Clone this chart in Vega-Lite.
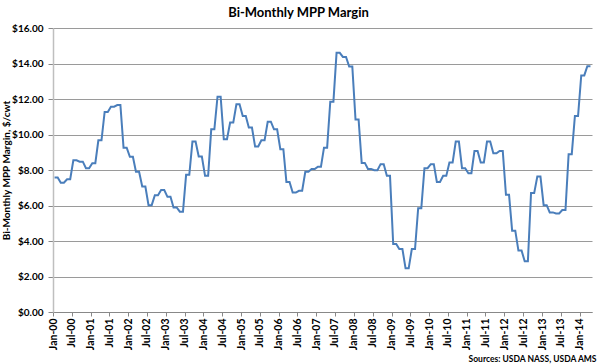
{
  "$schema": "https://vega.github.io/schema/vega-lite/v6.json",
  "autosize": {"type": "none"},
  "width": 539,
  "height": 284,
  "padding": {"left": 53, "top": 28, "right": 8, "bottom": 52},
  "background": "white",
  "title": {"text": "Bi-Monthly MPP Margin", "font": "Lato", "fontSize": 13, "fontWeight": "bold", "color": "#000000", "anchor": "middle", "frame": "bounds", "offset": 3},
  "config": {"view": {"stroke": null}, "font": "Lato"},
  "data": {"values": [
    {"d":"2000-01-01","v":7.58},{"d":"2000-02-01","v":7.58},{"d":"2000-03-01","v":7.28},{"d":"2000-04-01","v":7.28},{"d":"2000-05-01","v":7.48},{"d":"2000-06-01","v":7.48},
    {"d":"2000-07-01","v":8.55},{"d":"2000-08-01","v":8.55},{"d":"2000-09-01","v":8.47},{"d":"2000-10-01","v":8.47},{"d":"2000-11-01","v":8.10},{"d":"2000-12-01","v":8.10},
    {"d":"2001-01-01","v":8.38},{"d":"2001-02-01","v":8.38},{"d":"2001-03-01","v":9.67},{"d":"2001-04-01","v":9.67},{"d":"2001-05-01","v":11.27},{"d":"2001-06-01","v":11.27},
    {"d":"2001-07-01","v":11.57},{"d":"2001-08-01","v":11.57},{"d":"2001-09-01","v":11.66},{"d":"2001-10-01","v":11.66},{"d":"2001-11-01","v":9.26},{"d":"2001-12-01","v":9.26},
    {"d":"2002-01-01","v":8.74},{"d":"2002-02-01","v":8.74},{"d":"2002-03-01","v":7.90},{"d":"2002-04-01","v":7.90},{"d":"2002-05-01","v":7.07},{"d":"2002-06-01","v":7.07},
    {"d":"2002-07-01","v":6.02},{"d":"2002-08-01","v":6.02},{"d":"2002-09-01","v":6.58},{"d":"2002-10-01","v":6.58},{"d":"2002-11-01","v":6.87},{"d":"2002-12-01","v":6.87},
    {"d":"2003-01-01","v":6.49},{"d":"2003-02-01","v":6.49},{"d":"2003-03-01","v":5.89},{"d":"2003-04-01","v":5.89},{"d":"2003-05-01","v":5.65},{"d":"2003-06-01","v":5.65},
    {"d":"2003-07-01","v":7.73},{"d":"2003-08-01","v":7.73},{"d":"2003-09-01","v":9.60},{"d":"2003-10-01","v":9.60},{"d":"2003-11-01","v":8.76},{"d":"2003-12-01","v":8.76},
    {"d":"2004-01-01","v":7.67},{"d":"2004-02-01","v":7.67},{"d":"2004-03-01","v":10.29},{"d":"2004-04-01","v":10.29},{"d":"2004-05-01","v":12.13},{"d":"2004-06-01","v":12.13},
    {"d":"2004-07-01","v":9.73},{"d":"2004-08-01","v":9.73},{"d":"2004-09-01","v":10.67},{"d":"2004-10-01","v":10.67},{"d":"2004-11-01","v":11.70},{"d":"2004-12-01","v":11.70},
    {"d":"2005-01-01","v":11.04},{"d":"2005-02-01","v":11.04},{"d":"2005-03-01","v":10.39},{"d":"2005-04-01","v":10.39},{"d":"2005-05-01","v":9.32},{"d":"2005-06-01","v":9.32},
    {"d":"2005-07-01","v":9.67},{"d":"2005-08-01","v":9.67},{"d":"2005-09-01","v":10.72},{"d":"2005-10-01","v":10.72},{"d":"2005-11-01","v":10.29},{"d":"2005-12-01","v":10.29},
    {"d":"2006-01-01","v":9.17},{"d":"2006-02-01","v":9.17},{"d":"2006-03-01","v":7.33},{"d":"2006-04-01","v":7.33},{"d":"2006-05-01","v":6.73},{"d":"2006-06-01","v":6.73},
    {"d":"2006-07-01","v":6.83},{"d":"2006-08-01","v":6.83},{"d":"2006-09-01","v":7.90},{"d":"2006-10-01","v":7.90},{"d":"2006-11-01","v":8.05},{"d":"2006-12-01","v":8.05},
    {"d":"2007-01-01","v":8.19},{"d":"2007-02-01","v":8.19},{"d":"2007-03-01","v":9.26},{"d":"2007-04-01","v":9.26},{"d":"2007-05-01","v":11.85},{"d":"2007-06-01","v":11.85},
    {"d":"2007-07-01","v":14.60},{"d":"2007-08-01","v":14.60},{"d":"2007-09-01","v":14.37},{"d":"2007-10-01","v":14.37},{"d":"2007-11-01","v":13.83},{"d":"2007-12-01","v":13.83},
    {"d":"2008-01-01","v":10.85},{"d":"2008-02-01","v":10.85},{"d":"2008-03-01","v":8.40},{"d":"2008-04-01","v":8.40},{"d":"2008-05-01","v":8.06},{"d":"2008-06-01","v":8.06},
    {"d":"2008-07-01","v":7.99},{"d":"2008-08-01","v":7.99},{"d":"2008-09-01","v":8.33},{"d":"2008-10-01","v":8.33},{"d":"2008-11-01","v":7.67},{"d":"2008-12-01","v":7.67},
    {"d":"2009-01-01","v":3.83},{"d":"2009-02-01","v":3.83},{"d":"2009-03-01","v":3.55},{"d":"2009-04-01","v":3.55},{"d":"2009-05-01","v":2.46},{"d":"2009-06-01","v":2.46},
    {"d":"2009-07-01","v":3.55},{"d":"2009-08-01","v":3.55},{"d":"2009-09-01","v":5.85},{"d":"2009-10-01","v":5.85},{"d":"2009-11-01","v":8.10},{"d":"2009-12-01","v":8.10},
    {"d":"2010-01-01","v":8.33},{"d":"2010-02-01","v":8.33},{"d":"2010-03-01","v":7.33},{"d":"2010-04-01","v":7.33},{"d":"2010-05-01","v":7.67},{"d":"2010-06-01","v":7.67},
    {"d":"2010-07-01","v":8.42},{"d":"2010-08-01","v":8.42},{"d":"2010-09-01","v":9.60},{"d":"2010-10-01","v":9.60},{"d":"2010-11-01","v":8.10},{"d":"2010-12-01","v":8.10},
    {"d":"2011-01-01","v":7.82},{"d":"2011-02-01","v":7.82},{"d":"2011-03-01","v":9.07},{"d":"2011-04-01","v":9.07},{"d":"2011-05-01","v":8.42},{"d":"2011-06-01","v":8.42},
    {"d":"2011-07-01","v":9.60},{"d":"2011-08-01","v":9.60},{"d":"2011-09-01","v":8.94},{"d":"2011-10-01","v":8.94},{"d":"2011-11-01","v":9.07},{"d":"2011-12-01","v":9.07},
    {"d":"2012-01-01","v":6.60},{"d":"2012-02-01","v":6.60},{"d":"2012-03-01","v":4.58},{"d":"2012-04-01","v":4.58},{"d":"2012-05-01","v":3.46},{"d":"2012-06-01","v":3.46},
    {"d":"2012-07-01","v":2.86},{"d":"2012-08-01","v":2.86},{"d":"2012-09-01","v":6.70},{"d":"2012-10-01","v":6.70},{"d":"2012-11-01","v":7.63},{"d":"2012-12-01","v":7.63},
    {"d":"2013-01-01","v":6.02},{"d":"2013-02-01","v":6.02},{"d":"2013-03-01","v":5.61},{"d":"2013-04-01","v":5.61},{"d":"2013-05-01","v":5.55},{"d":"2013-06-01","v":5.55},
    {"d":"2013-07-01","v":5.74},{"d":"2013-08-01","v":5.74},{"d":"2013-09-01","v":8.89},{"d":"2013-10-01","v":8.89},{"d":"2013-11-01","v":11.04},{"d":"2013-12-01","v":11.04},
    {"d":"2014-01-01","v":13.33},{"d":"2014-02-01","v":13.33},{"d":"2014-03-01","v":13.85},{"d":"2014-04-01","v":13.85}
  ]},
  "mark": {"type": "line", "color": "#4a7ebb", "strokeWidth": 2, "interpolate": "linear"},
  "encoding": {
    "x": {
      "field": "d", "type": "temporal", "timeUnit": "utcyearmonth", "bandPosition": 0.5,
      "scale": {"type": "utc", "domain": [{"year": 2000, "month": 1, "date": 1, "utc": true}, {"year": 2014, "month": 5, "date": 1, "utc": true}], "nice": false},
      "axis": {
        "title": "Sources: USDA NASS, USDA AMS",
        "titleFont": "Lato", "titleFontSize": 8.5, "titleFontWeight": "bold", "titleColor": "#000000",
        "titleAnchor": "end", "titleAlign": "right", "titleX": 543, "titleY": 49, "titleBaseline": "alphabetic",
        "values": [
          {"year":2000,"month":1,"date":1,"utc":true},{"year":2000,"month":7,"date":1,"utc":true},
          {"year":2001,"month":1,"date":1,"utc":true},{"year":2001,"month":7,"date":1,"utc":true},
          {"year":2002,"month":1,"date":1,"utc":true},{"year":2002,"month":7,"date":1,"utc":true},
          {"year":2003,"month":1,"date":1,"utc":true},{"year":2003,"month":7,"date":1,"utc":true},
          {"year":2004,"month":1,"date":1,"utc":true},{"year":2004,"month":7,"date":1,"utc":true},
          {"year":2005,"month":1,"date":1,"utc":true},{"year":2005,"month":7,"date":1,"utc":true},
          {"year":2006,"month":1,"date":1,"utc":true},{"year":2006,"month":7,"date":1,"utc":true},
          {"year":2007,"month":1,"date":1,"utc":true},{"year":2007,"month":7,"date":1,"utc":true},
          {"year":2008,"month":1,"date":1,"utc":true},{"year":2008,"month":7,"date":1,"utc":true},
          {"year":2009,"month":1,"date":1,"utc":true},{"year":2009,"month":7,"date":1,"utc":true},
          {"year":2010,"month":1,"date":1,"utc":true},{"year":2010,"month":7,"date":1,"utc":true},
          {"year":2011,"month":1,"date":1,"utc":true},{"year":2011,"month":7,"date":1,"utc":true},
          {"year":2012,"month":1,"date":1,"utc":true},{"year":2012,"month":7,"date":1,"utc":true},
          {"year":2013,"month":1,"date":1,"utc":true},{"year":2013,"month":7,"date":1,"utc":true},
          {"year":2014,"month":1,"date":1,"utc":true}
        ],
        "labelExpr": "utcFormat(datum.value, '%b-%y')",
        "labelAngle": -90, "labelFont": "Lato", "labelFontSize": 10.5, "labelFontWeight": "bold", "labelColor": "#000000",
        "labelPadding": 2, "labelOverlap": false, "labelFlush": false,
        "tickSize": 4, "tickColor": "#888888", "domainColor": "#888888", "grid": false
      }
    },
    "y": {
      "field": "v", "type": "quantitative",
      "scale": {"domain": [0, 16], "nice": false, "zero": true},
      "axis": {
        "title": "Bi-Monthly MPP Margin, $/cwt",
        "titleFont": "Lato", "titleFontSize": 10, "titleFontWeight": "bold", "titleColor": "#000000",
        "titleX": -42, "titleY": 142, "titleAngle": -90, "titleAlign": "center", "titleBaseline": "bottom",
        "values": [0, 2, 4, 6, 8, 10, 12, 14, 16],
        "format": "$.2f",
        "labelFont": "Lato", "labelFontSize": 10, "labelFontWeight": "bold", "labelColor": "#000000", "labelPadding": 5,
        "tickSize": 5, "tickColor": "#888888", "domainColor": "#bfbfbf", "domainWidth": 1.5,
        "grid": true, "gridColor": "#9a9a9a", "gridWidth": 1
      }
    }
  }
}
